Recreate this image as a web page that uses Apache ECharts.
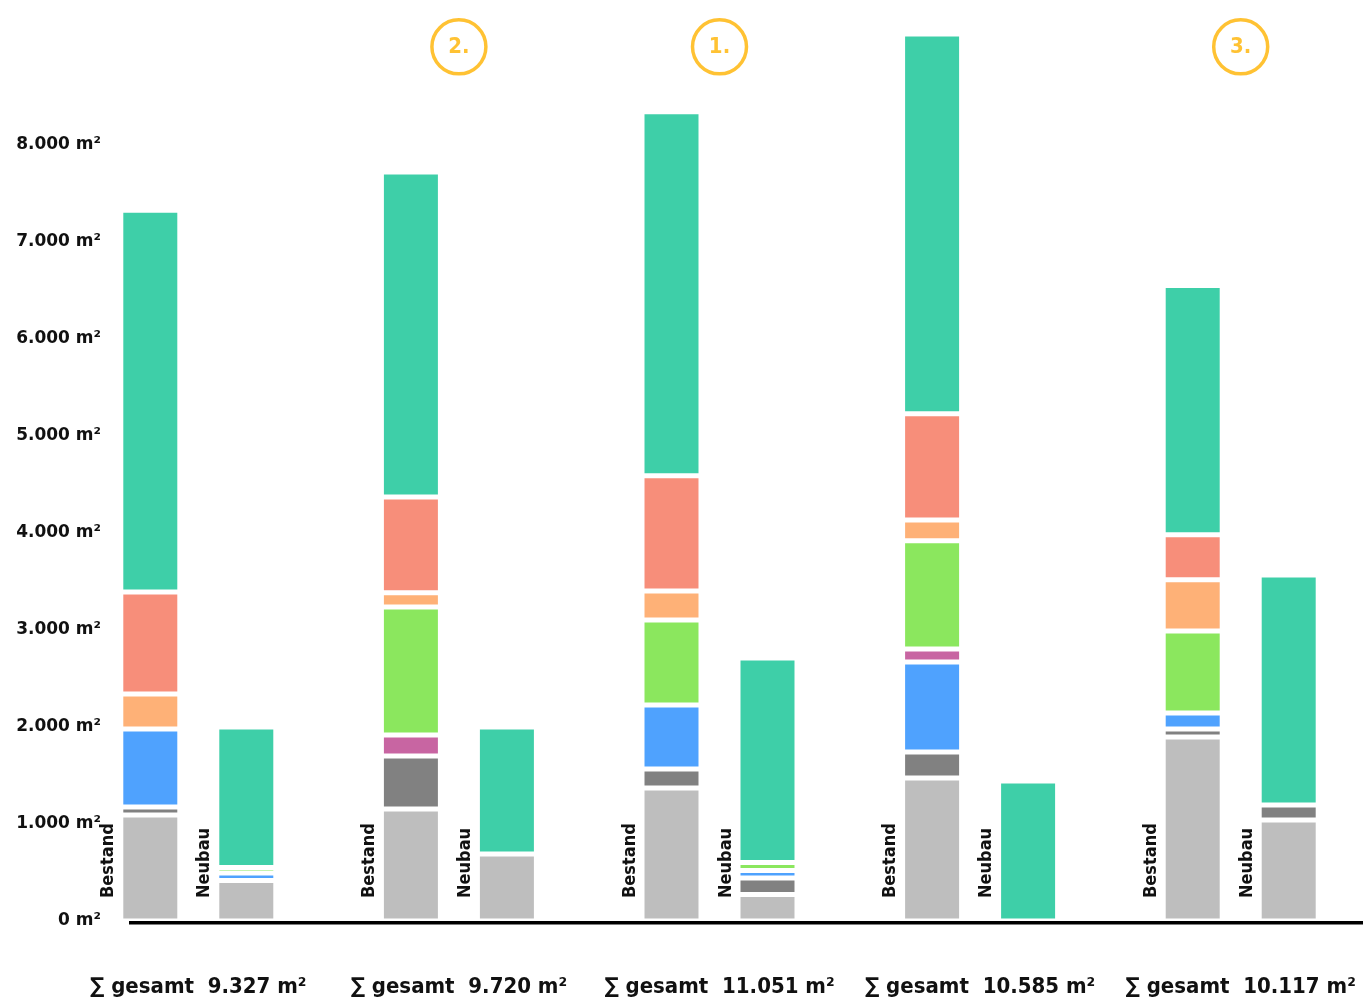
<!DOCTYPE html>
<html>
<head>
<meta charset="utf-8">
<script src="https://cdn.jsdelivr.net/npm/echarts@6/dist/echarts.min.js"></script>
<style>
  html, body { margin: 0; padding: 0; background: #fff; }
  #chart { width: 1363px; height: 999px; }
</style>
</head>
<body>
<div id="chart"></div>
<script>
// Flächen je Nutzungsart in m², fünf Varianten, jeweils Bestand und Neubau
const varianten = ['V1', 'V2', 'V3', 'V4', 'V5'];

const bestandHellgrau   = [1093, 1155, 1371, 1474, 1897];
const bestandDunkelgrau = [82, 546, 196, 268, 83];
const bestandBlau       = [805, 0, 660, 928, 164];
const bestandMagenta    = [0, 217, 0, 134, 0];
const bestandGruen      = [0, 1319, 876, 1114, 846];
const bestandOrange     = [360, 145, 299, 216, 526];
const bestandLachs      = [1052, 989, 1186, 1093, 464];
const bestandTuerkis    = [3935, 3349, 3752, 3915, 2570];

const neubauHellgrau   = [417, 691, 273, 0, 1041];
const neubauDunkelgrau = [0, 0, 170, 0, 155];
const neubauBlau       = [78, 0, 78, 0, 0];
const neubauMagenta    = [0, 0, 0, 0, 0];
const neubauGruen      = [56, 0, 82, 0, 0];
const neubauOrange     = [0, 0, 0, 0, 0];
const neubauLachs      = [0, 0, 0, 0, 0];
const neubauTuerkis    = [1449, 1309, 2108, 1443, 2371];

// Platzierung der besten drei Varianten
const rang = [null, 2, 1, null, 3];

// y-Achse
const yTicks = [0, 1000, 2000, 3000, 4000, 5000, 6000, 7000, 8000];

// Schichten von unten nach oben
const schichten = [
  { name: 'Hellgrau',   color: '#bebebe', b: bestandHellgrau,   n: neubauHellgrau },
  { name: 'Dunkelgrau', color: '#818181', b: bestandDunkelgrau, n: neubauDunkelgrau },
  { name: 'Blau',       color: '#4fa2fe', b: bestandBlau,       n: neubauBlau },
  { name: 'Magenta',    color: '#c865a2', b: bestandMagenta,    n: neubauMagenta },
  { name: 'Grün',       color: '#8be75e', b: bestandGruen,      n: neubauGruen },
  { name: 'Orange',     color: '#feb177', b: bestandOrange,     n: neubauOrange },
  { name: 'Lachs',      color: '#f78e7a', b: bestandLachs,      n: neubauLachs },
  { name: 'Türkis',     color: '#3ecfa8', b: bestandTuerkis,    n: neubauTuerkis }
];

const fmt = v => String(Math.round(v)).replace(/\B(?=(\d{3})+(?!\d))/g, '.');

const summen = varianten.map((_, i) =>
  schichten.reduce((s, l) => s + l.b[i] + l.n[i], 0));
const kategorien = summen.map(s => '\u2211 gesamt  ' + fmt(s) + ' m\u00b2');

const BAR_W = 59;
const BAR_GAP = 37;
const GOLD = '#ffb300';
const BADGE_LEVEL = 9010;

const balken = [];
schichten.forEach(l => {
  ['b', 'n'].forEach(k => {
    balken.push({
      type: 'bar',
      name: l.name + (k === 'b' ? ' Bestand' : ' Neubau'),
      stack: k,
      barWidth: BAR_W,
      barGap: (BAR_GAP / BAR_W * 100) + '%',
      itemStyle: { color: l.color, borderColor: '#ffffff', borderWidth: 2.5 },
      emphasis: { disabled: true },
      data: l[k].map(v => (v > 0 ? v : '-'))
    });
  });
});

const chart = echarts.init(document.getElementById('chart'), null, { renderer: 'canvas' });

chart.setOption({
  backgroundColor: '#ffffff',
  animation: false,
  grid: { left: 68, width: 1303, top: 9, bottom: 78, outerBoundsMode: 'none', containLabel: false },
  xAxis: {
    type: 'category',
    data: kategorien,
    axisLine: { show: false },
    axisTick: { show: false },
    axisLabel: {
      interval: 0,
      margin: 55,
      color: '#111111',
      fontSize: 22,
      fontWeight: 'bold',
      fontFamily: 'DejaVu Sans Condensed'
    }
  },
  yAxis: {
    type: 'value',
    min: 0,
    max: 9400,
    interval: 1000,
    offset: -41,
    axisLine: { show: false },
    axisTick: { show: false },
    splitLine: { show: false },
    axisLabel: {
      margin: 8,
      color: '#111111',
      fontSize: 17,
      fontWeight: 'bold',
      fontFamily: 'DejaVu Sans',
      padding: [0, 0, 12, 0],
      formatter: v => (yTicks.indexOf(v) >= 0 ? fmt(v) + ' m\u00b2' : '')
    }
  },
  series: balken.concat([{
    type: 'scatter',
    name: 'Rang',
    symbol: 'circle',
    symbolSize: 54,
    z: 5,
    itemStyle: { color: '#ffffff', borderColor: GOLD, borderWidth: 3.5 },
    label: {
      show: true,
      position: 'inside',
      color: GOLD,
      fontSize: 22,
      fontWeight: 'bold',
      fontFamily: 'DejaVu Sans Condensed',
      formatter: p => rang[p.dataIndex] + '.'
    },
    emphasis: { disabled: true },
    data: rang.map(r => (r ? BADGE_LEVEL : '-'))
  }])
});

// Grundlinie und senkrechte Beschriftungen neben den Balken
const y0 = chart.convertToPixel({ yAxisIndex: 0 }, 0);
const grafik = [{
  type: 'line',
  shape: { x1: 129, y1: y0 + 1.8, x2: 1363, y2: y0 + 1.8 },
  style: { stroke: '#000000', lineWidth: 3.5 },
  z: 10
}];
const halb = (BAR_W + BAR_GAP) / 2;
varianten.forEach((_, i) => {
  const cx = chart.convertToPixel({ xAxisIndex: 0 }, i);
  [['Bestand', cx - halb], ['Neubau', cx + halb]].forEach(([txt, mitte]) => {
    grafik.push({
      type: 'text',
      x: mitte - BAR_W / 2 - 3,
      y: y0 - 23,
      rotation: Math.PI / 2,
      style: {
        text: txt,
        fill: '#111111',
        font: 'bold 18px "DejaVu Sans Condensed"',
        textAlign: 'left',
        textVerticalAlign: 'bottom'
      },
      z: 10
    });
  });
});
chart.setOption({ graphic: grafik });
</script>
</body>
</html>
